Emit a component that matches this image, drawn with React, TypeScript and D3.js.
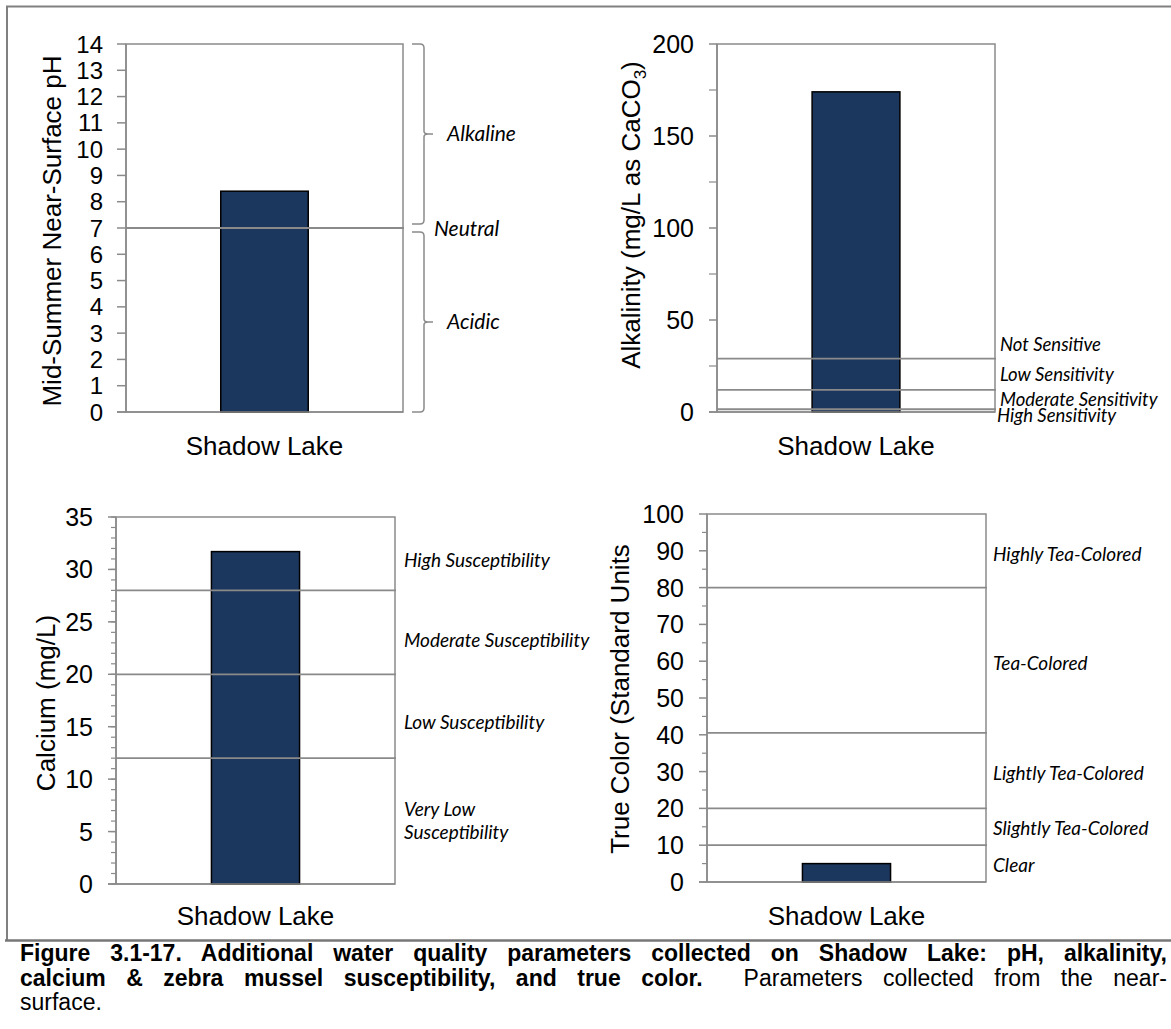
import React from "react";
import * as d3 from "d3";

// ---------- data ----------
const categories = ["Shadow Lake"];

const phValues = [8.4];
const phTicks = [0, 1, 2, 3, 4, 5, 6, 7, 8, 9, 10, 11, 12, 13, 14];
const phLines = [7];
const phBracketLabels = ["Alkaline", "Acidic"];
const phBracketFrom = [7.15, 0];
const phBracketTo = [14, 6.85];
const phNeutralLabel = "Neutral";
const phNeutralAt = 7;

const alkValues = [174];
const alkTicks = [0, 50, 100, 150, 200];
const alkMinorTicks = [25, 75, 125, 175];
const alkLines = [29, 12, 1.5];
const alkLabels = ["Not Sensitive", "Low Sensitivity", "Moderate Sensitivity", "High Sensitivity"];
const alkLabelAt = [36.4, 20.1, 6.6, -1.7];

const caValues = [31.7];
const caTicks = [0, 5, 10, 15, 20, 25, 30, 35];
const caMinorTicks = d3.range(0, 36, 1);
const caLines = [28, 20, 12];
const caLabels = [["High Susceptibility"], ["Moderate Susceptibility"], ["Low Susceptibility"], ["Very Low", "Susceptibility"]];
const caLabelAt = [30.9, 23.2, 15.4, 6];

const tcValues = [5];
const tcTicks = [0, 10, 20, 30, 40, 50, 60, 70, 80, 90, 100];
const tcMinorTicks = [5, 15, 25, 35, 45, 55, 65, 75, 85, 95];
const tcLines = [80, 40.5, 20, 10];
const tcLabels = ["Highly Tea-Colored", "Tea-Colored", "Lightly Tea-Colored", "Slightly Tea-Colored", "Clear"];
const tcLabelAt = [88.9, 59.5, 29.6, 14.7, 4.5];

const captionLine1 = "Figure 3.1-17.  Additional water quality parameters collected on Shadow Lake: pH, alkalinity,";
const captionLine2Bold = "calcium & zebra mussel susceptibility, and true color.";
const captionLine2Rest = "Parameters collected from the near-";
const captionLine3 = "surface.";

// ---------- style ----------
const GRAY = "#8a8a8a";
const BAR = "#1c375d";
const SANS = '"Liberation Sans", Arial, sans-serif';
const ITAL = 'Lato, "Open Sans", sans-serif';

type PanelProps = {
  left: number;
  right: number;
  top: number;
  bottom: number;
  domain: [number, number];
  values: number[];
  ticks: number[];
  minorTicks?: number[];
  tickFont: number;
  majorLen: number;
  minorLen: number;
  lines: number[];
  title: React.ReactNode;
  titleX: number;
  titleY: number;
  catY: number;
  children?: (y: d3.ScaleLinear<number, number>) => React.ReactNode;
};

function Panel(p: PanelProps) {
  const y = d3.scaleLinear().domain(p.domain).range([p.bottom, p.top]);
  const x = d3.scaleBand<string>().domain(categories).range([p.left, p.right]).padding(0.52);
  return (
    <g>
      <rect x={p.left} y={p.top} width={p.right - p.left} height={p.bottom - p.top} fill="#fff" stroke={GRAY} strokeWidth={1.5} />
      {(p.minorTicks || []).map((t) => (
        <line key={"m" + t} x1={p.left - p.minorLen} x2={p.left} y1={y(t)} y2={y(t)} stroke={GRAY} strokeWidth={1.2} />
      ))}
      {p.ticks.map((t) => (
        <g key={"t" + t}>
          <line x1={p.left - p.majorLen} x2={p.left} y1={y(t)} y2={y(t)} stroke={GRAY} strokeWidth={1.5} />
          <text x={p.left - 23} y={y(t)} dy="0.36em" textAnchor="end" fontFamily={SANS} fontSize={p.tickFont} fill="#000">
            {t}
          </text>
        </g>
      ))}
      {categories.map((c, i) => (
        <rect
          key={c}
          x={x(c)!}
          y={y(p.values[i])}
          width={x.bandwidth()}
          height={y(p.domain[0]) - y(p.values[i])}
          fill={BAR}
          stroke="#000"
          strokeWidth={1.5}
        />
      ))}
      {p.lines.map((v) => (
        <line key={"l" + v} x1={p.left} x2={p.right + 1} y1={y(v)} y2={y(v)} stroke={GRAY} strokeWidth={1.8} />
      ))}
      <line x1={p.left} x2={p.left} y1={p.top} y2={p.bottom} stroke={GRAY} strokeWidth={1.5} />
      <line x1={p.left - p.majorLen} x2={p.right} y1={p.bottom} y2={p.bottom} stroke={GRAY} strokeWidth={1.5} />
      {categories.map((c) => (
        <text key={"c" + c} x={x(c)! + x.bandwidth() / 2} y={p.catY} textAnchor="middle" fontFamily={SANS} fontSize={26} fill="#000">
          {c}
        </text>
      ))}
      <text transform={`translate(${p.titleX},${p.titleY}) rotate(-90)`} textAnchor="middle" fontFamily={SANS} fontSize={26} fill="#000">
        {p.title}
      </text>
      {p.children ? p.children(y) : null}
    </g>
  );
}

function Brace({ x, y0, y1 }: { x: number; y0: number; y1: number }) {
  const ym = (y0 + y1) / 2;
  const xv = x + 12;
  const r = 4;
  const d = [
    `M${x},${y0}`,
    `L${xv - r},${y0}`,
    `Q${xv},${y0} ${xv},${y0 + r}`,
    `L${xv},${ym - 3}`,
    `Q${xv},${ym} ${xv + 4},${ym}`,
    `L${xv + 9},${ym}`,
    `M${xv + 4},${ym}`,
    `Q${xv},${ym} ${xv},${ym + 3}`,
    `L${xv},${y1 - r}`,
    `Q${xv},${y1} ${xv - r},${y1}`,
    `L${x},${y1}`,
  ].join(" ");
  return <path d={d} fill="none" stroke={GRAY} strokeWidth={1.5} />;
}

export default function App() {
  const phLabelSize = 21;
  const labelSize = 19;
  const alkLabelSize = 18.5;
  return (
    <svg width={1171} height={1029} style={{ position: "absolute", left: 0, top: 0, background: "#fff" }}>
      <rect x={0} y={0} width={1171} height={1029} fill="#fff" />
      {/* frame */}
      <line x1={6} x2={1171} y1={6.5} y2={6.5} stroke="#808080" strokeWidth={2} />
      <line x1={7} x2={7} y1={6} y2={940} stroke="#808080" strokeWidth={2} />
      <line x1={5} x2={1171} y1={940.5} y2={940.5} stroke="#777" strokeWidth={2.5} />

      {/* pH */}
      <Panel
        left={126}
        right={403}
        top={44}
        bottom={412}
        domain={[0, 14]}
        values={phValues}
        ticks={phTicks}
        tickFont={24}
        majorLen={9}
        minorLen={0}
        lines={phLines}
        title="Mid-Summer Near-Surface pH"
        titleX={61}
        titleY={231}
        catY={455}
      >
        {(y) => (
          <g>
            {phBracketLabels.map((lab, i) => (
              <g key={lab}>
                <Brace x={412} y0={y(phBracketTo[i])} y1={y(phBracketFrom[i])} />
                <text x={447} y={(y(phBracketTo[i]) + y(phBracketFrom[i])) / 2} dy="0.35em" fontFamily={ITAL} fontStyle="italic" fontSize={phLabelSize} fill="#000">
                  {lab}
                </text>
              </g>
            ))}
            <text x={434} y={y(phNeutralAt)} dy="0.4em" fontFamily={ITAL} fontStyle="italic" fontSize={phLabelSize} fill="#000">
              {phNeutralLabel}
            </text>
          </g>
        )}
      </Panel>

      {/* Alkalinity */}
      <Panel
        left={717}
        right={995}
        top={44}
        bottom={412}
        domain={[0, 200]}
        values={alkValues}
        ticks={alkTicks}
        minorTicks={alkMinorTicks}
        tickFont={25}
        majorLen={8}
        minorLen={8}
        lines={alkLines}
        title={
          <>
            <tspan>Alkalinity (mg/L as CaCO</tspan>
            <tspan dy={6} fontSize={17}>3</tspan>
            <tspan dy={-6}>)</tspan>
          </>
        }
        titleX={640}
        titleY={215}
        catY={455}
      >
        {(y) => (
          <g>
            {alkLabels.map((lab, i) => (
              <text key={lab} x={i === 3 ? 997 : 1000} y={y(alkLabelAt[i])} dy="0.35em" fontFamily={ITAL} fontStyle="italic" fontSize={alkLabelSize} fill="#000">
                {lab}
              </text>
            ))}
          </g>
        )}
      </Panel>

      {/* Calcium */}
      <Panel
        left={116}
        right={395}
        top={517}
        bottom={884}
        domain={[0, 35]}
        values={caValues}
        ticks={caTicks}
        minorTicks={caMinorTicks}
        tickFont={25}
        majorLen={8}
        minorLen={5}
        lines={caLines}
        title="Calcium (mg/L)"
        titleX={55}
        titleY={703}
        catY={925}
      >
        {(y) => (
          <g>
            {caLabels.map((lab, i) => (
              <text key={i} x={404} y={y(caLabelAt[i]) - ((lab.length - 1) * 23) / 2} fontFamily={ITAL} fontStyle="italic" fontSize={labelSize} fill="#000">
                {lab.map((s, j) => (
                  <tspan key={j} x={404} dy={j === 0 ? "0.35em" : 23}>
                    {s}
                  </tspan>
                ))}
              </text>
            ))}
          </g>
        )}
      </Panel>

      {/* True color */}
      <Panel
        left={707}
        right={986}
        top={514}
        bottom={882}
        domain={[0, 100]}
        values={tcValues}
        ticks={tcTicks}
        minorTicks={tcMinorTicks}
        tickFont={25}
        majorLen={8}
        minorLen={5}
        lines={tcLines}
        title="True Color (Standard Units"
        titleX={629}
        titleY={699}
        catY={925}
      >
        {(y) => (
          <g>
            {tcLabels.map((lab, i) => (
              <text key={lab} x={993} y={y(tcLabelAt[i])} dy="0.35em" fontFamily={ITAL} fontStyle="italic" fontSize={labelSize} fill="#000">
                {lab}
              </text>
            ))}
          </g>
        )}
      </Panel>

      {/* caption */}
      <foreignObject x={20} y={941} width={1147} height={88}>
        <div style={{ fontFamily: SANS, fontSize: "23px", lineHeight: "24.5px", color: "#000" }}>
          <div style={{ textAlign: "justify", textAlignLast: "justify", fontWeight: 700, whiteSpace: "nowrap" }}>{captionLine1}</div>
          <div style={{ textAlign: "justify", textAlignLast: "justify", whiteSpace: "nowrap" }}>
            <b>{captionLine2Bold}</b>
            {"\u00a0 "}
            {captionLine2Rest}
          </div>
          <div>{captionLine3}</div>
        </div>
      </foreignObject>
    </svg>
  );
}
